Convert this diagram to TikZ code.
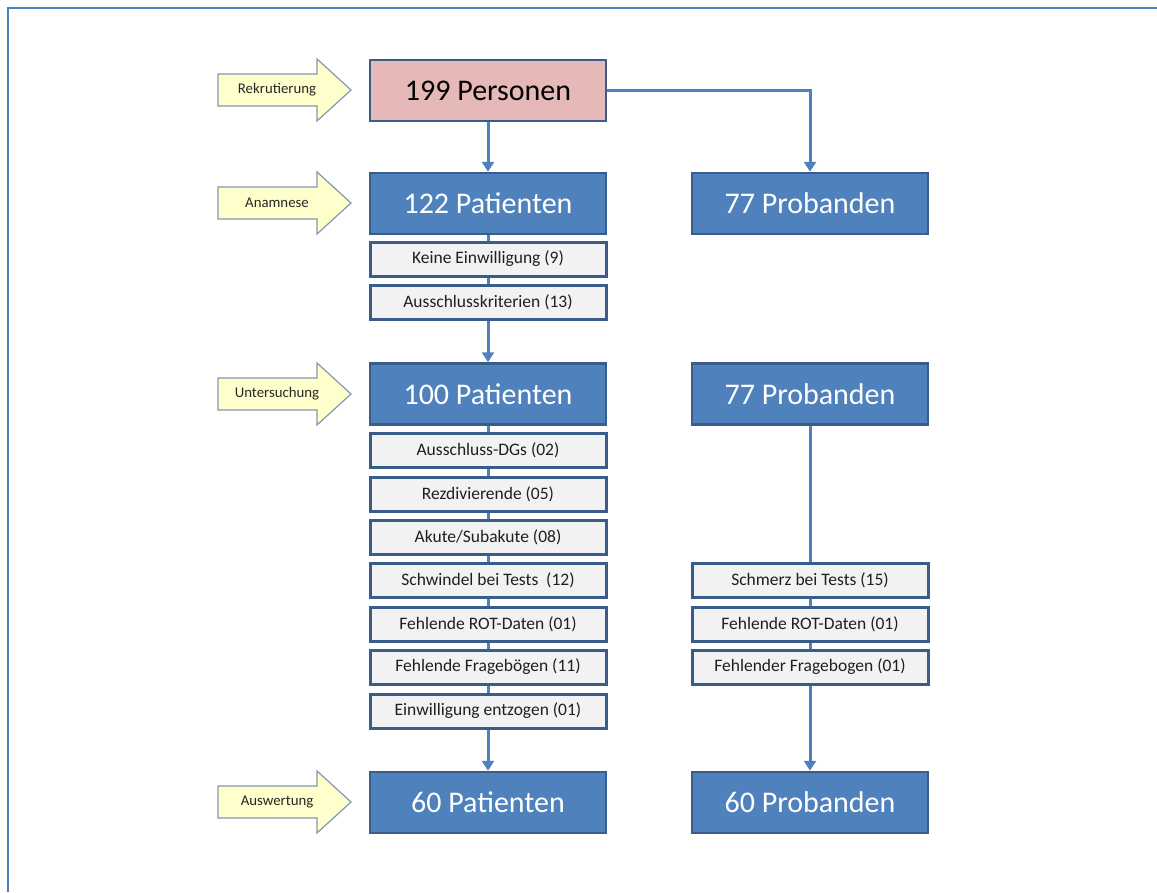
\documentclass[tikz,border=0pt]{standalone}
\usepackage{fontspec}
\setmainfont{Carlito}
\usetikzlibrary{arrows.meta}
\definecolor{obl}{HTML}{4F81BD}
\definecolor{obd}{HTML}{385D8A}
\definecolor{opink}{HTML}{E6B9B8}
\definecolor{ogray}{HTML}{F2F2F2}
\definecolor{oyel}{HTML}{FFFFCC}
\definecolor{oyeld}{HTML}{8497B0}
\definecolor{otxt}{HTML}{1F1F1F}
\begin{document}
\begin{tikzpicture}[x=1pt,y=-1pt,
  bigbox/.style={draw=obd,fill=obl,line width=2.5pt,minimum width=236pt,minimum height=61pt,inner sep=0pt,text=white,font=\fontsize{30}{33}\selectfont},
  pinkbox/.style={bigbox,fill=opink,text=black},
  smallbox/.style={draw=obd,fill=ogray,line width=3pt,minimum width=236pt,minimum height=34pt,inner sep=0pt,text=otxt,font=\fontsize{17.5}{20}\selectfont},
  conn/.style={draw=obl,line width=3pt},
  arr/.style={conn,-{Triangle[width=12pt,length=10pt]}},
  yarrow/.style={draw=oyeld,fill=oyel,line width=1.2pt,line join=miter},
  ylabel/.style={font=\fontsize{14.8}{17}\selectfont,text=black!85,inner sep=0pt}
]
\useasboundingbox (0,0) rectangle (1157,892);
\fill[white] (0,0) rectangle (1157,892);
\draw[obl,line width=2.5pt] (8,892) -- (8,8) -- (1157,8);

% side arrows
\foreach \c/\t/\n in {90/Rekrutierung/la, 203/Anamnese/lb, 394/Untersuchung/lc, 802/Auswertung/ld}{
  \draw[yarrow] (218,\c-16) -- (317,\c-16) -- (317,\c-31) -- (351,\c) -- (317,\c+31) -- (317,\c+16) -- (218,\c+16) -- cycle;
  \node[ylabel] (\n) at (277,\c) {\t};
}

% left column
\node[pinkbox] (p199) at (488,90.5) {199 Personen};
\node[bigbox] (pat122) at (488,203.5) {122 Patienten};
\node[smallbox] (k1) at (488,259) {Keine Einwilligung (9)};
\node[smallbox] (k2) at (488,302.5) {Ausschlusskriterien (13)};
\node[bigbox] (pat100) at (488,394) {100 Patienten};
\node[smallbox] (u1) at (488,450) {Ausschluss-DGs (02)};
\node[smallbox] (u2) at (488,494) {Rezdivierende (05)};
\node[smallbox] (u3) at (488,537) {Akute/Subakute (08)};
\node[smallbox] (u4) at (488,580) {Schwindel bei Tests\ \ (12)};
\node[smallbox] (u5) at (488,624) {Fehlende ROT-Daten (01)};
\node[smallbox] (u6) at (488,667) {Fehlende Fragebögen (11)};
\node[smallbox] (u7) at (488,711) {Einwilligung entzogen (01)};
\node[bigbox] (pat60) at (488,802.5) {60 Patienten};

% right column
\node[bigbox] (pr1) at (810,203.5) {77 Probanden};
\node[bigbox] (pr2) at (810,394) {77 Probanden};
\node[smallbox] (r1) at (810,580) {Schmerz bei Tests (15)};
\node[smallbox] (r2) at (810,624) {Fehlende ROT-Daten (01)};
\node[smallbox] (r3) at (810,667) {Fehlender Fragebogen (01)};
\node[bigbox] (pr3) at (810,802.5) {60 Probanden};

% connectors
\draw[arr] (p199.south) -- (pat122.north);
\draw[arr] (p199.east) -| (pr1.north);
\draw[conn] (pat122.south) -- (k1.north);
\draw[conn] (k1.south) -- (k2.north);
\draw[arr] (k2.south) -- (pat100.north);
\draw[conn] (pat100.south) -- (u1.north);
\draw[conn] (u1.south) -- (u2.north);
\draw[conn] (u2.south) -- (u3.north);
\draw[conn] (u3.south) -- (u4.north);
\draw[conn] (u4.south) -- (u5.north);
\draw[conn] (u5.south) -- (u6.north);
\draw[conn] (u6.south) -- (u7.north);
\draw[arr] (u7.south) -- (pat60.north);
\draw[conn] (pr2.south) -- (r1.north);
\draw[conn] (r1.south) -- (r2.north);
\draw[conn] (r2.south) -- (r3.north);
\draw[arr] (r3.south) -- (pr3.north);
\end{tikzpicture}
\end{document}
